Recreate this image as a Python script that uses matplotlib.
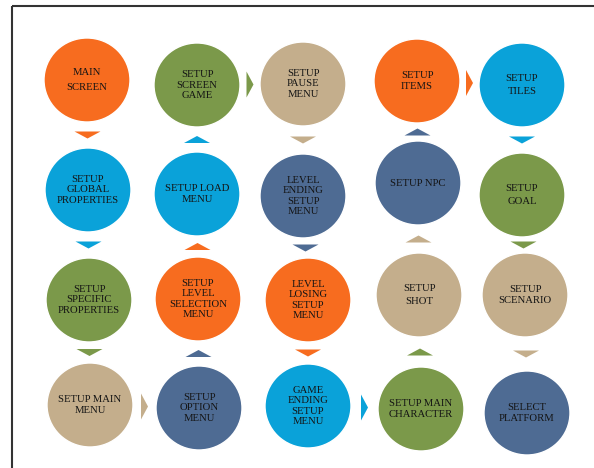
import matplotlib
matplotlib.use('Agg')
import matplotlib.pyplot as plt
from matplotlib.patches import Ellipse, Polygon, Rectangle

# Node labels (flow order)
labels = [
    'MAIN\nSCREEN', 'SETUP\nGLOBAL\nPROPERTIES', 'SETUP\nSPECIFIC\nPROPERTIES',
    'SETUP MAIN\nMENU', 'SETUP\nOPTION\nMENU', 'SETUP\nLEVEL\nSELECTION\nMENU',
    'SETUP LOAD\nMENU', 'SETUP\nSCREEN\nGAME', 'SETUP\nPAUSE\nMENU',
    'LEVEL\nENDING\nSETUP\nMENU', 'LEVEL\nLOSING\nSETUP\nMENU', 'GAME\nENDING\nSETUP\nMENU',
    'SETUP MAIN\nCHARACTER', 'SETUP\nSHOT', 'SETUP NPC', 'SETUP\nITEMS',
    'SETUP\nTILES', 'SETUP\nGOAL', 'SETUP\nSCENARIO', 'SELECT\nPLATFORM',
]

# Layout: circle centres in pixels (x, y from top)
cx = [87, 88, 89, 90, 199, 198, 197, 197, 303, 303, 308, 308,
      421, 419, 418, 417, 522, 522, 525, 527]
cy = [80, 190, 300, 405, 408, 299, 194, 85, 84, 196, 300, 406,
      409, 295, 183, 81, 85, 195, 295, 413]
# line spacing of each label
spacing = [1.8, 1.15, 1.15, 1.3, 1.15, 1.15, 1.3, 1.15, 1.15, 1.15, 1.15, 1.15,
           1.2, 1.65, 1.2, 1.3, 1.6, 1.6, 1.3, 1.4]

# Colours
orange = '#F76C1F'
green = '#7B994A'
tan = '#C4AE8C'
blue = '#0AA2D9'
slate = '#4E6B93'
colors = [orange, blue, green, tan, slate, orange, blue, green, tan,
          slate, orange, blue, green, tan, slate, orange, blue, green, tan, slate]

fig = plt.figure(figsize=(5.94, 4.68), dpi=100)
ax = fig.add_axes([0, 0, 1, 1])
ax.set_xlim(0, 594)
ax.set_ylim(468, 0)
ax.axis('off')

# Frame
ax.add_patch(Rectangle((12, 6), 600, 480, fill=False, edgecolor='#333333', linewidth=1.5))

# Circles with labels
for x, y, lab, c, ls in zip(cx, cy, labels, colors, spacing):
    ax.add_patch(Ellipse((x, y), 86, 84, facecolor=c, edgecolor='white', linewidth=1))
    ax.text(x, y, lab, ha='center', va='center', fontsize=7.7,
            family='Liberation Serif', color='#141414', linespacing=ls)

# Triangular connectors between consecutive nodes
for i in range(len(labels) - 1):
    x0, y0, x1, y1 = cx[i], cy[i], cx[i + 1], cy[i + 1]
    mx, my = (x0 + x1) / 2, (y0 + y1) / 2
    if abs(x1 - x0) > abs(y1 - y0):
        d = 1 if x1 > x0 else -1
        pts = [(mx - 3.5 * d, my - 13), (mx - 3.5 * d, my + 13), (mx + 3.5 * d, my)]
    else:
        d = 1 if y1 > y0 else -1
        pts = [(mx - 13, my - 3.5 * d), (mx + 13, my - 3.5 * d), (mx, my + 3.5 * d)]
    ax.add_patch(Polygon(pts, closed=True, facecolor=colors[i], edgecolor='none'))

fig.savefig('out.png', dpi=100)
